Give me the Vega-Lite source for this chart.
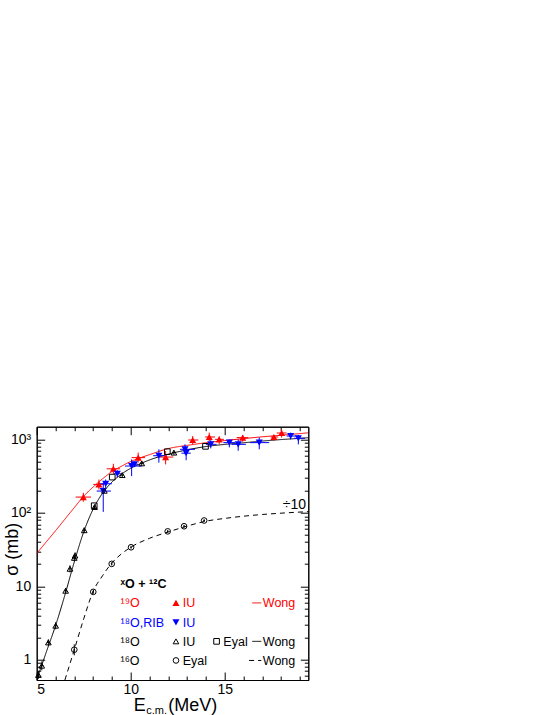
{
  "$schema": "https://vega.github.io/schema/vega-lite/v6.json",
  "width": 271.6,
  "height": 253.3,
  "autosize": "none",
  "padding": {"left": 36.7, "top": 426.7, "right": 244.7, "bottom": 35},
  "background": "white",
  "config": {
    "font": "Liberation Sans, DejaVu Sans",
    "view": {"stroke": "black", "strokeWidth": 1},
    "axis": {"domainColor": "black", "tickColor": "black", "labelColor": "black", "titleColor": "black", "grid": false, "labelFont": "Liberation Sans, DejaVu Sans", "titleFont": "Liberation Sans, DejaVu Sans", "titleFontWeight": "normal"}
  },
  "datasets": {
    "points": [
      {"series": "19O IU", "E": 7.48, "s": 164, "Elo": 7.07, "Ehi": 7.89, "slo": 142, "shi": 188},
      {"series": "19O IU", "E": 8.31, "s": 244, "Elo": 8.01, "Ehi": 8.6, "slo": 208, "shi": 284},
      {"series": "19O IU", "E": 9.08, "s": 398, "Elo": 8.72, "Ehi": 9.43, "slo": 340, "shi": 466},
      {"series": "19O IU", "E": 10.4, "s": 565, "Elo": 10.05, "Ehi": 10.76, "slo": 482, "shi": 662},
      {"series": "19O IU", "E": 11.86, "s": 575, "Elo": 11.56, "Ehi": 12.27, "slo": 457, "shi": 694},
      {"series": "19O IU", "E": 13.3, "s": 982, "Elo": 13.06, "Ehi": 13.6, "slo": 855, "shi": 1112},
      {"series": "19O IU", "E": 14.18, "s": 1079, "Elo": 13.96, "Ehi": 14.49, "slo": 950, "shi": 1238},
      {"series": "19O IU", "E": 14.71, "s": 1003, "Elo": 14.49, "Ehi": 14.96, "slo": 860, "shi": 1100},
      {"series": "19O IU", "E": 15.96, "s": 1058, "Elo": 15.64, "Ehi": 16.26, "slo": 930, "shi": 1150},
      {"series": "19O IU", "E": 17.62, "s": 1079, "Elo": 17.45, "Ehi": 17.85, "slo": 960, "shi": 1150},
      {"series": "19O IU", "E": 18.03, "s": 1223, "Elo": 17.77, "Ehi": 18.3, "slo": 1060, "shi": 1370},
      {"series": "18O RIB IU", "E": 8.54, "s": 198, "Elo": 8.19, "Ehi": 8.95, "slo": 103, "shi": 257},
      {"series": "18O RIB IU", "E": 8.67, "s": 249, "Elo": 8.37, "Ehi": 9.0, "slo": 215, "shi": 285},
      {"series": "18O RIB IU", "E": 9.29, "s": 341, "Elo": 9.11, "Ehi": 9.48, "slo": 305, "shi": 380},
      {"series": "18O RIB IU", "E": 10.05, "s": 434, "Elo": 9.7, "Ehi": 10.59, "slo": 316, "shi": 535},
      {"series": "18O RIB IU", "E": 10.2, "s": 460, "Elo": 10.0, "Ehi": 10.4, "slo": 420, "shi": 500},
      {"series": "18O RIB IU", "E": 11.5, "s": 600, "Elo": 11.2, "Ehi": 11.91, "slo": 483, "shi": 733},
      {"series": "18O RIB IU", "E": 12.89, "s": 733, "Elo": 12.62, "Ehi": 13.42, "slo": 626, "shi": 857},
      {"series": "18O RIB IU", "E": 12.95, "s": 650, "Elo": 12.7, "Ehi": 13.2, "slo": 520, "shi": 733},
      {"series": "18O RIB IU", "E": 14.26, "s": 857, "Elo": 14.0, "Ehi": 14.57, "slo": 755, "shi": 977},
      {"series": "18O RIB IU", "E": 15.25, "s": 904, "Elo": 14.93, "Ehi": 15.55, "slo": 780, "shi": 995},
      {"series": "18O RIB IU", "E": 15.72, "s": 857, "Elo": 15.37, "Ehi": 16.13, "slo": 700, "shi": 1000},
      {"series": "18O RIB IU", "E": 16.84, "s": 904, "Elo": 16.35, "Ehi": 17.37, "slo": 733, "shi": 1059},
      {"series": "18O RIB IU", "E": 18.51, "s": 1112, "Elo": 18.3, "Ehi": 18.83, "slo": 1000, "shi": 1238},
      {"series": "18O RIB IU", "E": 18.92, "s": 1035, "Elo": 18.69, "Ehi": 19.27, "slo": 857, "shi": 1150},
      {"series": "18O IU", "E": 5.09, "s": 0.62, "Elo": 5.03, "Ehi": 5.15, "slo": 0.55, "shi": 0.7},
      {"series": "18O IU", "E": 5.27, "s": 0.83, "Elo": 5.18, "Ehi": 5.36, "slo": 0.72, "shi": 0.95},
      {"series": "18O IU", "E": 5.62, "s": 1.72, "Elo": 5.55, "Ehi": 5.69, "slo": 1.55, "shi": 1.9},
      {"series": "18O IU", "E": 6.01, "s": 2.91, "Elo": 5.93, "Ehi": 6.09, "slo": 2.6, "shi": 3.25},
      {"series": "18O IU", "E": 6.54, "s": 8.7, "Elo": 6.47, "Ehi": 6.61, "slo": 8.0, "shi": 9.5},
      {"series": "18O IU", "E": 6.77, "s": 17.3, "Elo": 6.69, "Ehi": 6.85, "slo": 15.5, "shi": 19.3},
      {"series": "18O IU", "E": 7.0, "s": 24.4, "Elo": 6.93, "Ehi": 7.07, "slo": 22, "shi": 27},
      {"series": "18O IU", "E": 7.04, "s": 26.2, "Elo": 6.97, "Ehi": 7.11, "slo": 23.5, "shi": 29},
      {"series": "18O IU", "E": 7.53, "s": 58, "Elo": 7.45, "Ehi": 7.61, "slo": 53, "shi": 63},
      {"series": "18O IU", "E": 8.08, "s": 120, "Elo": 8.0, "Ehi": 8.16, "slo": 111, "shi": 129},
      {"series": "18O IU", "E": 8.6, "s": 200, "Elo": 8.52, "Ehi": 8.68, "slo": 186, "shi": 214},
      {"series": "18O IU", "E": 9.55, "s": 327, "Elo": 9.47, "Ehi": 9.63, "slo": 305, "shi": 350},
      {"series": "18O IU", "E": 10.59, "s": 472, "Elo": 10.5, "Ehi": 10.68, "slo": 440, "shi": 505},
      {"series": "18O IU", "E": 12.3, "s": 661, "Elo": 12.2, "Ehi": 12.4, "slo": 620, "shi": 705},
      {"series": "18O Eyal", "E": 8.06, "s": 125, "Elo": 8.06, "Ehi": 8.06, "slo": 125, "shi": 125},
      {"series": "18O Eyal", "E": 9.02, "s": 307, "Elo": 9.02, "Ehi": 9.02, "slo": 307, "shi": 307},
      {"series": "18O Eyal", "E": 11.95, "s": 681, "Elo": 11.95, "Ehi": 11.95, "slo": 681, "shi": 681},
      {"series": "18O Eyal", "E": 13.98, "s": 805, "Elo": 13.98, "Ehi": 13.98, "slo": 805, "shi": 805},
      {"series": "16O Eyal", "E": 7.0, "s": 1.37, "Elo": 6.96, "Ehi": 7.04, "slo": 1.15, "shi": 1.62},
      {"series": "16O Eyal", "E": 8.01, "s": 8.4, "Elo": 7.97, "Ehi": 8.05, "slo": 7.9, "shi": 8.9},
      {"series": "16O Eyal", "E": 8.99, "s": 20.2, "Elo": 8.95, "Ehi": 9.03, "slo": 19.2, "shi": 21.2},
      {"series": "16O Eyal", "E": 10.02, "s": 34.0, "Elo": 9.98, "Ehi": 10.06, "slo": 32.5, "shi": 35.5},
      {"series": "16O Eyal", "E": 11.97, "s": 56, "Elo": 11.93, "Ehi": 12.01, "slo": 53.5, "shi": 58.5},
      {"series": "16O Eyal", "E": 12.84, "s": 65.7, "Elo": 12.8, "Ehi": 12.88, "slo": 63, "shi": 68.5},
      {"series": "16O Eyal", "E": 13.91, "s": 78.7, "Elo": 13.87, "Ehi": 13.95, "slo": 75.5, "shi": 82}
    ],
    "curves": [
      {"series": "19O Wong", "E": 5.0, "s": 28},
      {"series": "19O Wong", "E": 5.5, "s": 40},
      {"series": "19O Wong", "E": 6.0, "s": 57},
      {"series": "19O Wong", "E": 6.5, "s": 82},
      {"series": "19O Wong", "E": 7.0, "s": 118},
      {"series": "19O Wong", "E": 7.5, "s": 168},
      {"series": "19O Wong", "E": 8.0, "s": 225},
      {"series": "19O Wong", "E": 8.5, "s": 290},
      {"series": "19O Wong", "E": 9.0, "s": 365},
      {"series": "19O Wong", "E": 9.5, "s": 430},
      {"series": "19O Wong", "E": 10.0, "s": 500},
      {"series": "19O Wong", "E": 10.5, "s": 560},
      {"series": "19O Wong", "E": 11.0, "s": 620},
      {"series": "19O Wong", "E": 12.0, "s": 750},
      {"series": "19O Wong", "E": 13.0, "s": 830},
      {"series": "19O Wong", "E": 14.0, "s": 900},
      {"series": "19O Wong", "E": 15.0, "s": 965},
      {"series": "19O Wong", "E": 16.0, "s": 1025},
      {"series": "19O Wong", "E": 17.0, "s": 1085},
      {"series": "19O Wong", "E": 18.0, "s": 1140},
      {"series": "19O Wong", "E": 19.0, "s": 1200},
      {"series": "19O Wong", "E": 19.45, "s": 1230},
      {"series": "18O Wong", "E": 5.0, "s": 0.53},
      {"series": "18O Wong", "E": 5.5, "s": 1.25},
      {"series": "18O Wong", "E": 6.0, "s": 2.9},
      {"series": "18O Wong", "E": 6.5, "s": 7.6},
      {"series": "18O Wong", "E": 7.0, "s": 21.5},
      {"series": "18O Wong", "E": 7.5, "s": 55},
      {"series": "18O Wong", "E": 8.0, "s": 112},
      {"series": "18O Wong", "E": 8.5, "s": 185},
      {"series": "18O Wong", "E": 9.0, "s": 262},
      {"series": "18O Wong", "E": 9.5, "s": 335},
      {"series": "18O Wong", "E": 10.0, "s": 405},
      {"series": "18O Wong", "E": 10.5, "s": 465},
      {"series": "18O Wong", "E": 11.0, "s": 525},
      {"series": "18O Wong", "E": 12.0, "s": 630},
      {"series": "18O Wong", "E": 13.0, "s": 720},
      {"series": "18O Wong", "E": 14.0, "s": 800},
      {"series": "18O Wong", "E": 15.0, "s": 855},
      {"series": "18O Wong", "E": 16.0, "s": 900},
      {"series": "18O Wong", "E": 17.0, "s": 950},
      {"series": "18O Wong", "E": 18.0, "s": 995},
      {"series": "18O Wong", "E": 19.0, "s": 1035},
      {"series": "18O Wong", "E": 19.45, "s": 1055},
      {"series": "16O Wong", "E": 6.5, "s": 0.53},
      {"series": "16O Wong", "E": 7.0, "s": 1.37},
      {"series": "16O Wong", "E": 7.5, "s": 3.6},
      {"series": "16O Wong", "E": 8.0, "s": 8.5},
      {"series": "16O Wong", "E": 8.5, "s": 13.9},
      {"series": "16O Wong", "E": 9.0, "s": 20.8},
      {"series": "16O Wong", "E": 9.5, "s": 27.5},
      {"series": "16O Wong", "E": 10.0, "s": 34},
      {"series": "16O Wong", "E": 11.0, "s": 45},
      {"series": "16O Wong", "E": 12.0, "s": 55},
      {"series": "16O Wong", "E": 13.0, "s": 66},
      {"series": "16O Wong", "E": 14.0, "s": 77},
      {"series": "16O Wong", "E": 15.0, "s": 84},
      {"series": "16O Wong", "E": 16.0, "s": 90},
      {"series": "16O Wong", "E": 17.0, "s": 95},
      {"series": "16O Wong", "E": 18.0, "s": 99},
      {"series": "16O Wong", "E": 19.45, "s": 104}
    ],
    "legendText": [
      {"label": "ˣO + ¹²C", "series": "header", "E": 9.46, "s": 9.51},
      {"label": "¹⁹O", "series": "19O", "E": 9.46, "s": 5.19},
      {"label": "IU", "series": "19O", "E": 12.77, "s": 5.19},
      {"label": "Wong", "series": "19O", "E": 17.03, "s": 5.19},
      {"label": "¹⁸O,RIB", "series": "18O RIB", "E": 9.46, "s": 2.82},
      {"label": "IU", "series": "18O RIB", "E": 12.77, "s": 2.82},
      {"label": "¹⁸O", "series": "18O", "E": 9.46, "s": 1.553},
      {"label": "IU", "series": "18O", "E": 12.77, "s": 1.553},
      {"label": "Eyal", "series": "18O", "E": 14.93, "s": 1.553},
      {"label": "Wong", "series": "18O", "E": 17.03, "s": 1.553},
      {"label": "¹⁶O", "series": "16O", "E": 9.46, "s": 0.855},
      {"label": "Eyal", "series": "16O", "E": 12.77, "s": 0.855},
      {"label": "Wong", "series": "16O", "E": 17.03, "s": 0.855}
    ],
    "legendMarks": [
      {"series": "19O IU", "E": 12.41, "s": 5.94},
      {"series": "18O RIB IU", "E": 12.41, "s": 3.23},
      {"series": "18O IU", "E": 12.41, "s": 1.78},
      {"series": "18O Eyal", "E": 14.57, "s": 1.78},
      {"series": "16O Eyal", "E": 12.41, "s": 0.978}
    ],
    "legendLines": [
      {"series": "19O Wong", "E": 16.47, "s": 5.94},
      {"series": "19O Wong", "E": 16.95, "s": 5.94},
      {"series": "18O Wong", "E": 16.47, "s": 1.78},
      {"series": "18O Wong", "E": 16.95, "s": 1.78},
      {"series": "16O Wong", "E": 16.3, "s": 0.978},
      {"series": "16O Wong", "E": 16.95, "s": 0.978}
    ]
  },
  "layer": [
    {
      "data": {"name": "curves"},
      "mark": {"type": "line", "strokeWidth": 1, "clip": true, "interpolate": "monotone"},
      "encoding": {
        "x": {"field": "E", "type": "quantitative", "scale": {"domain": [5, 19.45], "nice": false, "zero": false},
          "axis": {"orient": "bottom", "values": [5,6,7,8,9,10,11,12,13,14,15,16,17,18,19], "labelExpr": "datum.value % 5 === 0 ? datum.label : ''", "format": "d", "tickSize": {"condition": {"test": "datum.value % 5 === 0", "value": -8}, "value": -4}, "labelPadding": 10, "labelFontSize": 14, "labelOverlap": false, "title": null, "domainWidth": 1}},
        "y": {"field": "s", "type": "quantitative", "scale": {"type": "log", "domain": [0.53, 1490], "nice": false},
          "axis": {"orient": "left", "values": [0.6,0.7,0.8,0.9,1,2,3,4,5,6,7,8,9,10,20,30,40,50,60,70,80,90,100,200,300,400,500,600,700,800,900,1000], "labelExpr": "datum.value === 1000 ? '10³' : datum.value === 100 ? '10²' : datum.value === 10 ? '10' : datum.value === 1 ? '1' : ''", "tickSize": {"condition": {"test": "indexof([1,10,100,1000], datum.value) >= 0", "value": -8}, "value": -4}, "labelPadding": 14, "labelFontSize": 14, "labelOverlap": false, "title": "σ (mb)", "titleFontSize": 18, "titleAngle": 270, "titleX": -24, "titleY": 122, "titleAlign": "center", "titleBaseline": "middle"}},
        "detail": {"field": "series"},
        "color": {"field": "series", "type": "nominal", "scale": {"domain": ["19O Wong", "18O Wong", "16O Wong", "19O IU", "18O RIB IU", "18O IU", "18O Eyal", "16O Eyal", "19O", "18O RIB", "18O", "16O", "header"], "range": ["#ff0000", "#000000", "#000000", "#ff0000", "#0000ff", "#000000", "#000000", "#000000", "#ff0000", "#0000ff", "#000000", "#000000", "#000000"]}, "legend": null},
        "strokeDash": {"field": "series", "type": "nominal", "scale": {"domain": ["19O Wong", "18O Wong", "16O Wong"], "range": [[1, 0], [1, 0], [5, 4]]}, "legend": null}
      }
    },
    {
      "data": {"name": "points"},
      "mark": {"type": "rule", "strokeWidth": 1},
      "encoding": {
        "x": {"field": "Elo", "type": "quantitative", "axis": {"orient": "top", "values": [5,6,7,8,9,10,11,12,13,14,15,16,17,18,19], "labels": false, "tickSize": {"condition": {"test": "datum.value % 5 === 0", "value": -8}, "value": -4}, "title": null}},
        "x2": {"field": "Ehi"},
        "y": {"field": "s", "type": "quantitative", "axis": {"orient": "right", "values": [0.6,0.7,0.8,0.9,1,2,3,4,5,6,7,8,9,10,20,30,40,50,60,70,80,90,100,200,300,400,500,600,700,800,900,1000], "labels": false, "tickSize": {"condition": {"test": "indexof([1,10,100,1000], datum.value) >= 0", "value": -8}, "value": -4}, "title": null}},
        "color": {"field": "series", "type": "nominal", "legend": null}
      }
    },
    {
      "data": {"name": "points"},
      "mark": {"type": "rule", "strokeWidth": 1},
      "encoding": {
        "x": {"field": "E", "type": "quantitative", "axis": null},
        "y": {"field": "slo", "type": "quantitative", "axis": null},
        "y2": {"field": "shi"},
        "color": {"field": "series", "type": "nominal", "legend": null}
      }
    },
    {
      "data": {"name": "points"},
      "transform": [{"filter": "datum.series === '19O IU' || datum.series === '18O RIB IU'"}],
      "mark": {"type": "point", "filled": true, "opacity": 1, "size": 50},
      "encoding": {
        "x": {"field": "E", "type": "quantitative", "axis": null},
        "y": {"field": "s", "type": "quantitative", "axis": null},
        "color": {"field": "series", "type": "nominal", "legend": null},
        "shape": {"field": "series", "type": "nominal", "scale": {"domain": ["19O IU", "18O RIB IU", "18O IU", "18O Eyal", "16O Eyal"], "range": ["triangle-up", "triangle-down", "triangle-up", "square", "circle"]}, "legend": null}
      }
    },
    {
      "data": {"name": "points"},
      "transform": [{"filter": "datum.series !== '19O IU' && datum.series !== '18O RIB IU'"}],
      "mark": {"type": "point", "filled": false, "opacity": 1, "size": 32, "strokeWidth": 1},
      "encoding": {
        "x": {"field": "E", "type": "quantitative", "axis": null},
        "y": {"field": "s", "type": "quantitative", "axis": null},
        "color": {"field": "series", "type": "nominal", "legend": null},
        "shape": {"field": "series", "type": "nominal", "legend": null}
      }
    },
    {
      "data": {"name": "legendLines"},
      "mark": {"type": "line", "strokeWidth": 1},
      "encoding": {
        "x": {"field": "E", "type": "quantitative", "axis": null},
        "y": {"field": "s", "type": "quantitative", "axis": null},
        "detail": {"field": "series"},
        "color": {"field": "series", "type": "nominal", "legend": null},
        "strokeDash": {"field": "series", "type": "nominal", "legend": null}
      }
    },
    {
      "data": {"name": "legendMarks"},
      "transform": [{"filter": "datum.series === '19O IU' || datum.series === '18O RIB IU'"}],
      "mark": {"type": "point", "filled": true, "opacity": 1, "size": 50},
      "encoding": {
        "x": {"field": "E", "type": "quantitative", "axis": null},
        "y": {"field": "s", "type": "quantitative", "axis": null},
        "color": {"field": "series", "type": "nominal", "legend": null},
        "shape": {"field": "series", "type": "nominal", "legend": null}
      }
    },
    {
      "data": {"name": "legendMarks"},
      "transform": [{"filter": "datum.series !== '19O IU' && datum.series !== '18O RIB IU'"}],
      "mark": {"type": "point", "filled": false, "opacity": 1, "size": 32, "strokeWidth": 1},
      "encoding": {
        "x": {"field": "E", "type": "quantitative", "axis": null},
        "y": {"field": "s", "type": "quantitative", "axis": null},
        "color": {"field": "series", "type": "nominal", "legend": null},
        "shape": {"field": "series", "type": "nominal", "legend": null}
      }
    },
    {
      "data": {"name": "legendText"},
      "transform": [{"filter": "datum.series !== 'header'"}],
      "mark": {"type": "text", "align": "left", "baseline": "alphabetic", "fontSize": 12.5},
      "encoding": {
        "x": {"field": "E", "type": "quantitative", "axis": null},
        "y": {"field": "s", "type": "quantitative", "axis": null},
        "text": {"field": "label"},
        "color": {"field": "series", "type": "nominal", "legend": null}
      }
    },
    {
      "data": {"name": "legendText"},
      "transform": [{"filter": "datum.series === 'header'"}],
      "mark": {"type": "text", "align": "left", "baseline": "alphabetic", "fontSize": 12.5, "fontWeight": "bold", "color": "black"},
      "encoding": {
        "x": {"field": "E", "type": "quantitative", "axis": null},
        "y": {"field": "s", "type": "quantitative", "axis": null},
        "text": {"field": "label"}
      }
    },
    {
      "data": {"values": [{"label": "÷10", "E": 19.33, "s": 112}]},
      "mark": {"type": "text", "align": "right", "baseline": "alphabetic", "fontSize": 14, "color": "black"},
      "encoding": {
        "x": {"field": "E", "type": "quantitative", "axis": null},
        "y": {"field": "s", "type": "quantitative", "axis": null},
        "text": {"field": "label"}
      }
    },
    {
      "data": {"values": [{"label": "E", "E": 10.17, "s": 0.201}, {"label": "(MeV)", "E": 12.0, "s": 0.201}]},
      "mark": {"type": "text", "align": "left", "baseline": "alphabetic", "fontSize": 18, "color": "black"},
      "encoding": {
        "x": {"field": "E", "type": "quantitative", "axis": null},
        "y": {"field": "s", "type": "quantitative", "axis": null},
        "text": {"field": "label"}
      }
    },
    {
      "data": {"values": [{"label": "c.m.", "E": 10.83, "s": 0.18}]},
      "mark": {"type": "text", "align": "left", "baseline": "alphabetic", "fontSize": 11, "color": "black"},
      "encoding": {
        "x": {"field": "E", "type": "quantitative", "axis": null},
        "y": {"field": "s", "type": "quantitative", "axis": null},
        "text": {"field": "label"}
      }
    }
  ],
  "resolve": {"axis": {"x": "independent", "y": "independent"}}
}
